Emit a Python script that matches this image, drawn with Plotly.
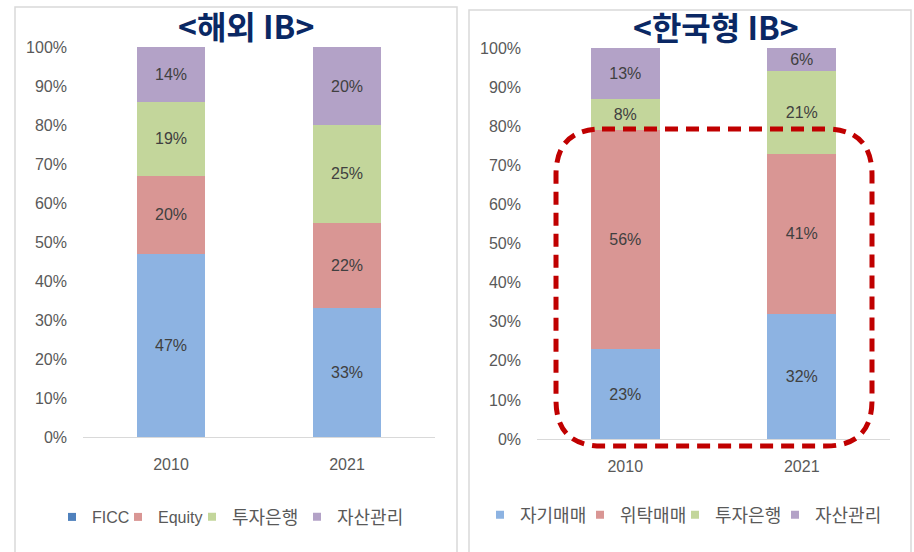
import plotly.graph_objects as go

W, H = 914, 552

years = ["2010", "2021"]

# 해외 IB
left_series = ["FICC", "Equity", "투자은행", "자산관리"]
left_values = {
    "FICC": [47, 33],
    "Equity": [20, 22],
    "투자은행": [19, 25],
    "자산관리": [14, 20],
}
# 한국형 IB
right_series = ["자기매매", "위탁매매", "투자은행", "자산관리"]
right_values = {
    "자기매매": [23, 32],
    "위탁매매": [56, 41],
    "투자은행": [8, 21],
    "자산관리": [13, 6],
}

bar_colors = ["#8DB3E2", "#D99694", "#C3D69B", "#B3A2C7"]
left_legend_colors = ["#4F81BD", "#D99694", "#C3D69B", "#B3A2C7"]
right_legend_colors = ["#8DB3E2", "#D99694", "#C3D69B", "#B3A2C7"]

# legend text start positions (px) for each item
left_legend_x = [92, 158, 232, 337]
right_legend_x = [520, 620, 715, 815]

FONT = "Liberation Sans, Noto Sans CJK KR, sans-serif"
KFONT = "Noto Sans CJK KR, sans-serif"


def px_x(p):
    return p / W


def px_y(p):
    return 1 - p / H


def is_latin(s):
    return all(ord(c) < 128 for c in s)


fig = go.Figure()
legend_layouts = {}
leg_idx = 0


def add_panel(series, values, colors, leg_colors, leg_x, xa, ya, leg_y):
    global leg_idx
    for i, name in enumerate(series):
        vals = values[name]
        fig.add_trace(go.Bar(
            x=years, y=[v / 100 for v in vals], name=name,
            marker=dict(color=colors[i], line=dict(width=0)),
            text=[f"{v}%" for v in vals], textposition="inside",
            insidetextanchor="middle", textangle=0, constraintext="none",
            textfont=dict(family=FONT, size=16, color="#404040"),
            xaxis=xa, yaxis=ya, showlegend=False, width=0.39,
            hoverinfo="skip",
        ))
        leg_idx += 1
        lname = "legend" if leg_idx == 1 else f"legend{leg_idx}"
        fig.add_trace(go.Scatter(
            x=[None], y=[None], mode="markers", name=name,
            marker=dict(symbol="square", size=8, color=leg_colors[i]),
            xaxis=xa, yaxis=ya, legend=lname, showlegend=True,
        ))
        latin = is_latin(name)
        legend_layouts[lname] = dict(
            orientation="h", x=px_x(leg_x[i] - 40), xanchor="left",
            y=px_y(leg_y), yanchor="middle",
            font=dict(family=FONT if latin else KFONT, size=16 if latin else 18,
                      color="#595959"),
            itemclick=False, itemdoubleclick=False,
            bgcolor="rgba(0,0,0,0)", borderwidth=0,
        )


add_panel(left_series, left_values, bar_colors, left_legend_colors, left_legend_x, "x", "y", 517)
add_panel(right_series, right_values, bar_colors, right_legend_colors, right_legend_x, "x2", "y2", 515)

axis_common_x = dict(
    type="category", range=[-0.5, 1.5], showgrid=False, zeroline=False,
    showline=True, linecolor="#D9D9D9", linewidth=1, ticks="",
    tickfont=dict(family=FONT, size=16, color="#595959"),
    ticklabelstandoff=13, fixedrange=True,
)
axis_common_y = dict(
    range=[0, 1], tickvals=[i / 10 for i in range(11)], tickformat=".0%",
    showgrid=False, zeroline=False, showline=False, ticks="",
    tickfont=dict(family=FONT, size=16, color="#595959"),
    ticklabelstandoff=15, fixedrange=True,
)

title_font = dict(family=KFONT, size=32, color="#0A2864", weight="bold")

fig.update_layout(
    width=W, height=H,
    margin=dict(l=0, r=0, t=0, b=0, pad=0, autoexpand=False),
    paper_bgcolor="white", plot_bgcolor="white",
    barmode="stack", showlegend=True, hovermode=False,
    xaxis=dict(domain=[px_x(83), px_x(435)], anchor="y", **axis_common_x),
    yaxis=dict(domain=[px_y(437), px_y(47)], anchor="x", **axis_common_y),
    xaxis2=dict(domain=[px_x(537), px_x(890)], anchor="y2", **axis_common_x),
    yaxis2=dict(domain=[px_y(439), px_y(48)], anchor="x2", **axis_common_y),
    annotations=[
        dict(text="<해외 IB>", x=px_x(246), y=px_y(25), xref="paper", yref="paper",
             xanchor="center", yanchor="middle", showarrow=False,
             borderpad=0, font=title_font),
        dict(text="<한국형 IB>", x=px_x(716), y=px_y(26), xref="paper", yref="paper",
             xanchor="center", yanchor="middle", showarrow=False,
             borderpad=0, font=title_font),
    ],
    **legend_layouts,
)

# panel borders
fig.add_shape(type="rect", xref="paper", yref="paper",
              x0=px_x(15), x1=px_x(457), y0=px_y(570), y1=px_y(7),
              line=dict(color="#D9D9D9", width=1.5), fillcolor="rgba(0,0,0,0)", layer="below")
fig.add_shape(type="rect", xref="paper", yref="paper",
              x0=px_x(469), x1=px_x(911), y0=px_y(570), y1=px_y(10),
              line=dict(color="#D9D9D9", width=1.5), fillcolor="rgba(0,0,0,0)", layer="below")

# dashed rounded highlight box (pixel coordinates -> paper)
L, T, R, B, r = 556, 129, 872, 446, 46


def P(x, y):
    return f"{px_x(x):.5f},{px_y(y):.5f}"


path = (
    f"M {P(L + r, T)} L {P(R - r, T)} Q {P(R, T)} {P(R, T + r)} "
    f"L {P(R, B - r)} Q {P(R, B)} {P(R - r, B)} "
    f"L {P(L + r, B)} Q {P(L, B)} {P(L, B - r)} "
    f"L {P(L, T + r)} Q {P(L, T)} {P(L + r, T)} Z"
)
fig.add_shape(type="path", path=path, xref="paper", yref="paper",
              line=dict(color="#C00000", width=5, dash="13px,8px"),
              fillcolor="rgba(0,0,0,0)", layer="above")

fig.write_html("out.html", config={"displayModeBar": False},
               post_script="document.body.style.margin='0';")
